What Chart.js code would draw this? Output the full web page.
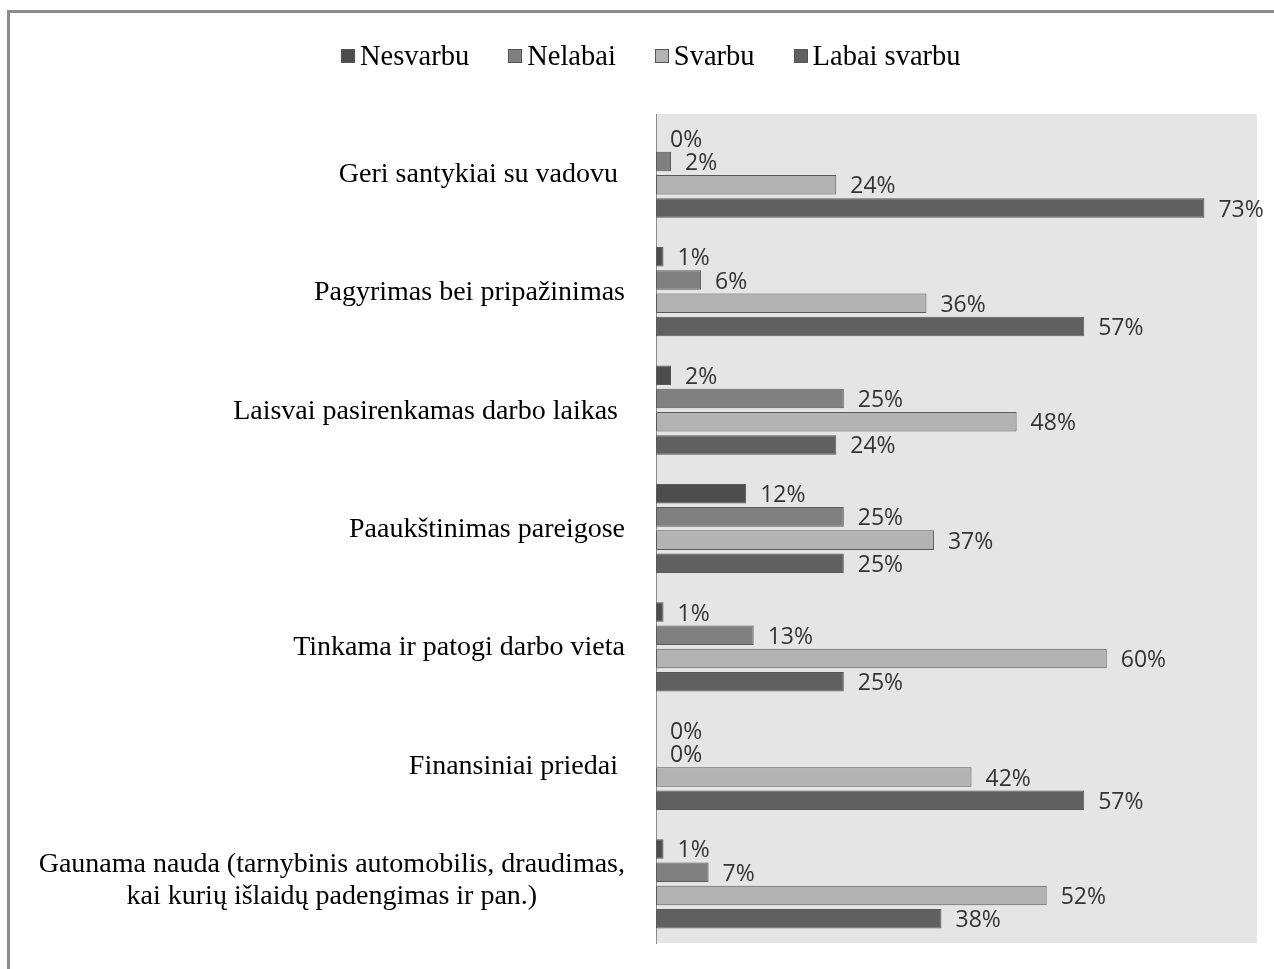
<!DOCTYPE html>
<html lang="lt">
<head>
  <meta charset="UTF-8">
  <title>Motyvacijos veiksniai</title>
  <script src="https://cdn.jsdelivr.net/npm/chart.js"></script>
  <style>
    body {
      margin: 0;
      background: #fff;
      width: 1274px;
      height: 969px;
      overflow: hidden;
      position: relative;
    }

    .frame {
      position: absolute;
      left: 7px;
      top: 10px;
      width: 1300px;
      height: 1000px;
      border-top: 3px solid #8c8c8c;
      border-left: 3px solid #8c8c8c;
      box-sizing: border-box;
    }

    canvas {
      position: absolute;
      left: 0;
      top: 0;
    }

    .legend {
      position: absolute;
      left: 341px;
      top: 40px;
      display: flex;
      align-items: center;
      font-family: "Liberation Serif", serif;
      font-size: 28.5px;
      color: #000;
      z-index: 2;
    }

    .legend span.item {
      display: flex;
      align-items: center;
      margin-right: 39px;
    }

    .legend span.box {
      display: inline-block;
      width: 12px;
      height: 12px;
      border: 1px solid #555;
      margin-right: 5px;
    }
  </style>
</head>
<body>

  <div class="frame"></div>
  <div class="legend" id="legend"></div>
  <canvas id="barChart" width="1274" height="969"></canvas>

  <script>
    // Kategorijos (eilutės su keliomis linijomis - masyvai)
    var kategorijos = [
      'Geri santykiai su vadovu ',
      'Pagyrimas bei pripažinimas',
      'Laisvai pasirenkamas darbo laikas ',
      'Paaukštinimas pareigose',
      'Tinkama ir patogi darbo vieta',
      'Finansiniai priedai ',
      ['Gaunama nauda (tarnybinis automobilis, draudimas,', 'kai kurių išlaidų padengimas ir pan.)']
    ];

    var serijos = ['Nesvarbu', 'Nelabai', 'Svarbu', 'Labai svarbu'];

    var nesvarbu = [0, 1, 2, 12, 1, 0, 1];
    var nelabai = [2, 6, 25, 25, 13, 0, 7];
    var svarbu = [24, 36, 48, 37, 60, 42, 52];
    var labaiSvarbu = [73, 57, 24, 25, 25, 57, 38];

    var spalvos = ['#4d4d4d', '#808080', '#b3b3b3', '#606060'];
    var reiksmes = [nesvarbu, nelabai, svarbu, labaiSvarbu];

    // Legenda virš grafiko
    var legendEl = document.getElementById('legend');
    serijos.forEach(function (pav, i) {
      var item = document.createElement('span');
      item.className = 'item';
      var box = document.createElement('span');
      box.className = 'box';
      box.style.background = spalvos[i];
      item.appendChild(box);
      item.appendChild(document.createTextNode(pav));
      legendEl.appendChild(item);
    });

    // Pilkas braižymo srities fonas
    var fonas = {
      id: 'fonas',
      beforeDraw: function (chart) {
        var a = chart.chartArea;
        var ctx = chart.ctx;
        ctx.save();
        ctx.fillStyle = '#e5e5e5';
        ctx.fillRect(a.left, a.top, a.right - a.left, a.bottom - a.top);
        ctx.restore();
      }
    };

    // Kategorijų pavadinimai kairėje (eilutės centruojamos tarpusavyje)
    var pavadinimai = {
      id: 'pavadinimai',
      afterDraw: function (chart) {
        var ctx = chart.ctx;
        var yScale = chart.scales.y;
        ctx.save();
        ctx.font = '28px "Liberation Serif", serif';
        ctx.fillStyle = '#000';
        ctx.textBaseline = 'alphabetic';
        ctx.textAlign = 'center';
        kategorijos.forEach(function (lab, i) {
          var lines = Array.isArray(lab) ? lab : [lab];
          var c = yScale.getPixelForTick(i);
          var maxW = 0;
          lines.forEach(function (l) { maxW = Math.max(maxW, ctx.measureText(l).width); });
          var cx = 625 - maxW / 2;
          var n = lines.length;
          lines.forEach(function (l, j) {
            var y = c + 8.5 + (j - (n - 1) / 2) * 32 - (n - 1) * 4;
            ctx.fillText(l, cx, y);
          });
        });
        ctx.restore();
      }
    };

    // Procentinės reikšmės šalia stulpelių
    var reiksmiuZymes = {
      id: 'reiksmiuZymes',
      afterDatasetsDraw: function (chart) {
        var ctx = chart.ctx;
        ctx.save();
        ctx.font = '23px "Open Sans", sans-serif';
        ctx.fillStyle = '#333';
        ctx.textAlign = 'left';
        ctx.textBaseline = 'middle';
        chart.data.datasets.forEach(function (ds, di) {
          var meta = chart.getDatasetMeta(di);
          meta.data.forEach(function (bar, i) {
            ctx.fillText(ds.data[i] + '%', bar.x + 14, bar.y + 2);
          });
        });
        ctx.restore();
      }
    };

    var ctx = document.getElementById('barChart').getContext('2d');

    var barChart = new Chart(ctx, {
      type: 'bar',
      data: {
        labels: kategorijos,
        datasets: serijos.map(function (pav, i) {
          return {
            label: pav,
            data: reiksmes[i],
            backgroundColor: spalvos[i],
            borderColor: '#595959',
            borderWidth: 1,
            borderSkipped: false,
            categoryPercentage: 0.785,
            barPercentage: 0.84
          };
        })
      },
      options: {
        indexAxis: 'y',
        responsive: false,
        animation: false,
        devicePixelRatio: 1,
        layout: {
          padding: { left: 656, top: 114, right: 17, bottom: 26 }
        },
        plugins: {
          legend: { display: false },
          tooltip: { enabled: false }
        },
        scales: {
          x: {
            display: false,
            min: 0,
            max: 80
          },
          y: {
            display: true,
            ticks: { display: false },
            grid: { display: true, drawOnChartArea: false, drawTicks: false },
            border: { display: true, color: '#8c8c8c', width: 1 },
            afterFit: function (scale) { scale.width = 0; }
          }
        }
      },
      plugins: [fonas, pavadinimai, reiksmiuZymes]
    });
  </script>

</body>
</html>
